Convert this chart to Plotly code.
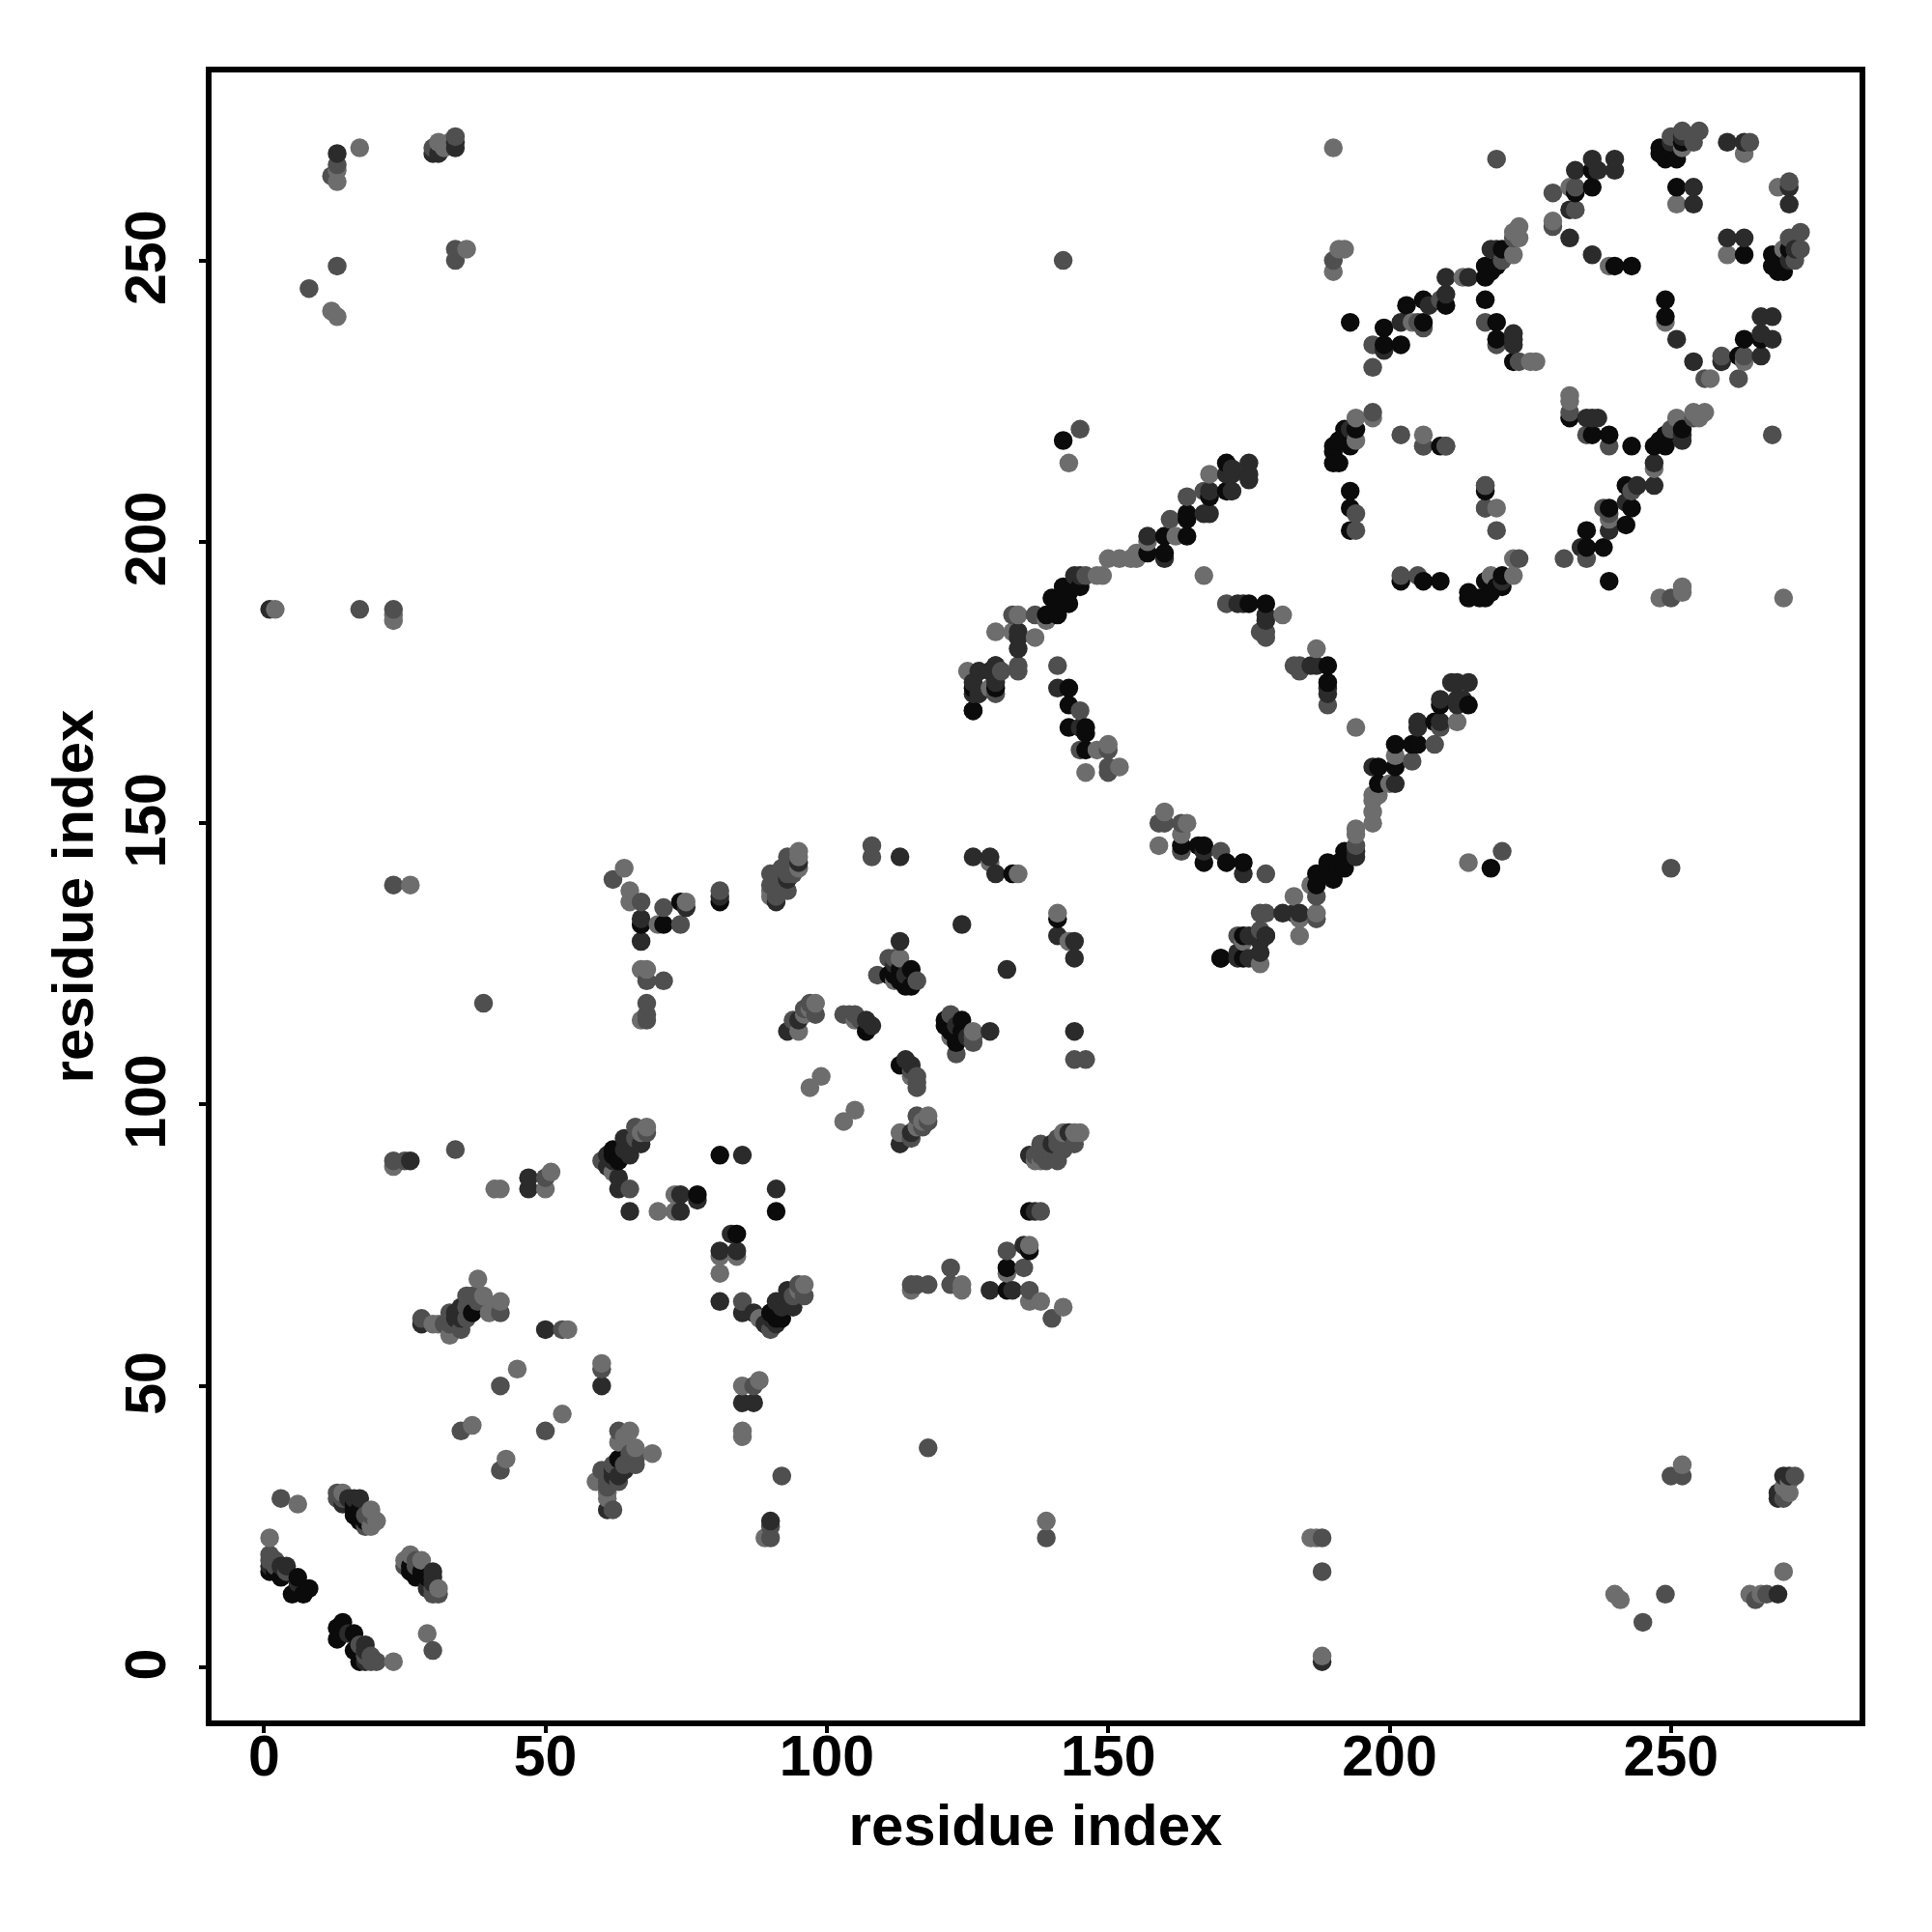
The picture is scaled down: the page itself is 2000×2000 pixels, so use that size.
import plotly.graph_objects as go

contacts_black = [(8,14),(7,13),(6,14),(5,13),(6,16),(3,16),(1,17),(2,17),(16,29),(16,28),(16,27),(17,28),(18,26),(17,26),(37,63),(81,91),(63,90),(62,92),(62,91),(77,84),(67,132),(71,132),(74,136),(81,136),(107,113),(111,123),(112,124),(113,124),(115,124),(115,121),(114,121),(113,122),(112,123),(133,141),(142,218),(171,214),(171,209),(168,208),(164,205),(164,204),(164,201),(160,201),(157,198),(160,198),(145,192),(143,191),(142,192),(143,189),(140,190),(141,187),(139,187),(126,174),(126,170),(130,174),(143,174),(143,171),(143,167),(146,167),(146,166),(146,163),(178,189),(175,189),(141,190),(141,189),(170,126),(193,239),(199,238),(199,235),(202,235),(203,242),(206,243),(206,239),(210,242),(217,243),(219,239),(219,236),(222,232),(217,247),(217,249),(220,252),(219,249),(218,248),(233,262),(236,263),(236,266),(251,263),(251,268),(248,270),(249,268),(249,270),(250,270),(240,249),(243,249),(192,220),(194,220),(193,217),(191,218),(191,214),(190,216),(190,214),(190,217),(193,209),(193,206),(193,202),(209,217),(192,219),(248,269),(252,271)]
contacts_dark = [(1,18),(4,18),(3,18),(6,15),(14,29),(16,30),(17,30),(15,30),(28,61),(34,62),(34,63),(35,62),(35,64),(13,269),(26,90),(47,85),(47,87),(50,60),(63,85),(63,87),(65,81),(74,81),(77,83),(74,84),(65,91),(85,91),(61,89),(62,90),(61,91),(67,93),(64,94),(66,93),(65,92),(64,92),(34,271),(34,270),(30,269),(31,269),(1,188),(75,135),(67,133),(67,129),(81,137),(95,143),(93,140),(91,136),(93,113),(95,115),(108,114),(113,129),(112,125),(114,123),(113,144),(126,144),(129,144),(130,141),(124,132),(107,115),(172,212),(175,212),(175,214),(168,209),(168,205),(167,205),(157,201),(160,197),(145,194),(134,184),(134,183),(134,181),(130,178),(127,177),(127,173),(141,174),(173,189),(174,189),(178,187),(178,186),(175,211),(144,194),(145,167),(175,130),(178,130),(173,126),(175,126),(177,129),(202,239),(199,234),(210,244),(210,247),(207,242),(218,252),(222,236),(222,235),(232,259),(233,266),(237,266),(236,268),(240,268),(240,266),(236,251),(232,254),(254,263),(254,260),(260,271),(263,271),(250,271),(252,272),(222,237),(219,252),(214,247),(193,220),(172,209),(171,212),(172,213)]
contacts_mid = [(1,19),(1,20),(2,19),(2,18),(4,17),(3,30),(13,31),(13,30),(14,30),(18,25),(18,27),(19,27),(28,62),(33,61),(33,63),(32,61),(35,60),(36,62),(36,64),(36,66),(37,66),(38,65),(38,66),(42,63),(42,50),(50,87),(65,85),(60,90),(66,94),(66,96),(68,95),(35,42),(53,60),(34,92),(39,118),(23,139),(17,188),(23,188),(13,267),(12,265),(13,249),(8,245),(30,270),(34,272),(34,252),(34,250),(23,90),(25,90),(67,136),(71,135),(74,132),(81,138),(68,122),(71,122),(68,118),(68,116),(68,115),(92,142),(91,140),(93,138),(91,137),(92,139),(108,146),(108,144),(111,126),(112,126),(109,123),(116,122),(103,116),(105,116),(98,116),(96,117),(94,115),(97,118),(104,116),(106,115),(90,139),(93,141),(92,140),(94,141),(91,138),(91,139),(90,141),(93,144),(62,140),(141,178),(134,178),(134,177),(131,177),(133,187),(137,187),(130,173),(161,204),(164,208),(146,194),(150,159),(150,160),(150,163),(145,163),(171,189),(177,184),(178,183),(178,184),(145,170),(167,209),(197,231),(197,235),(205,239),(206,238),(209,243),(217,239),(219,235),(223,232),(220,250),(222,254),(229,262),(233,259),(233,263),(252,273),(255,273),(254,271),(264,271),(229,256),(250,272),(219,268),(190,250),(202,219),(206,217),(210,217),(217,210),(194,205),(194,202),(197,223),(145,220),(142,250),(217,206)]
contacts_light = [(1,23),(6,29),(14,31),(19,28),(20,26),(19,25),(30,61),(31,61),(33,59),(38,69),(39,66),(40,63),(41,64),(42,65),(37,43),(45,53),(54,60),(41,85),(42,85),(50,85),(51,88),(62,88),(70,81),(73,81),(73,84),(68,96),(67,95),(2,188),(23,187),(23,186),(23,89),(26,139),(17,270),(13,266),(13,264),(12,241),(13,240),(31,271),(33,271),(32,270),(36,252),(64,142),(65,138),(65,136),(75,136),(70,132),(67,124),(68,124),(67,115),(95,145),(95,142),(90,137),(90,138),(95,113),(96,116),(97,103),(99,105),(113,126),(112,122),(105,115),(98,118),(97,117),(134,141),(129,143),(143,214),(190,270),(191,252),(190,248),(168,212),(155,198),(155,197),(154,197),(152,197),(150,197),(149,194),(148,194),(139,186),(134,187),(130,184),(133,184),(137,183),(125,177),(129,174),(146,159),(148,163),(150,164),(152,160),(181,187),(167,194),(162,201),(157,200),(197,222),(194,222),(206,219),(213,247),(222,251),(223,256),(222,255),(225,232),(226,232),(229,257),(232,263),(204,239),(239,249),(251,260),(252,270),(263,269),(223,254),(192,252),(194,218),(95,144)]

shades = [
    ("#0b0b0b", contacts_black),
    ("#2b2b2b", contacts_dark),
    ("#4f4f4f", contacts_mid),
    ("#6d6d6d", contacts_light),
]

tick_vals = [0, 50, 100, 150, 200, 250]
axis_title = "residue index"

# the reference paints its points in order of x, then y
points = []
for colour, pairs in shades:
    for a, b in pairs:
        points.append((a, b, colour))
        points.append((b, a, colour))
points.sort(key=lambda p: (p[0], p[1]))

fig = go.Figure(go.Scatter(
    x=[p[0] for p in points],
    y=[p[1] for p in points],
    mode="markers",
    marker=dict(color=[p[2] for p in points], size=19.5, line=dict(width=0), opacity=1),
    showlegend=False,
    hoverinfo="skip",
))

tick_font = dict(family="Liberation Sans", size=59, color="#000000", weight="bold")
title_font = dict(family="Liberation Sans", size=60, color="#000000", weight="bold")
axis = dict(
    showgrid=False, zeroline=False, showline=True, mirror=True,
    linecolor="#000000", linewidth=5.5,
    ticks="outside", ticklen=7, tickwidth=4, tickcolor="#000000",
    tickvals=tick_vals, tickfont=tick_font,
)
fig.update_xaxes(range=[-9.32, 283.5], ticklabelstandoff=-27,
                 title=dict(text=axis_title, font=title_font, standoff=20), **axis)
fig.update_yaxes(range=[-9.44, 283.4], tickangle=-90, ticklabelstandoff=12, ticklabelshift=6,
                 title=dict(text=axis_title, font=title_font, standoff=4), **axis)
fig.update_layout(
    width=2000, height=2000, autosize=False,
    paper_bgcolor="#ffffff", plot_bgcolor="#ffffff",
    margin=dict(l=211, r=83, t=67, b=227, pad=0),
)
fig.write_html("out.html")
